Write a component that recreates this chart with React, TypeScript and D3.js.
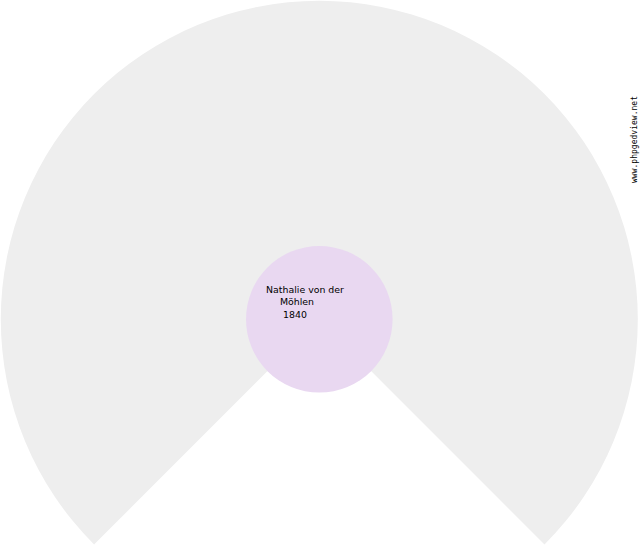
import React, { useEffect, useRef } from 'react';
import * as d3 from 'd3';

// fan chart content
const personLines = ['Nathalie von der', 'Möhlen', '1840'];
const lineCenters = [305, 297, 295];
const watermark = 'www.phpgedview.net';
const fanDegrees = 270;

export default function App() {
  const svgRef = useRef<SVGSVGElement>(null);

  useEffect(() => {
    if (!svgRef.current) return;
    const svg = d3.select(svgRef.current);
    svg.selectAll('*').remove();

    const width = 640, height = 550;
    const cx = 319.3, cy = 319.3;
    const outerR = 318.5, innerR = 73.3;

    svg.attr('width', width).attr('height', height);

    // Fan background (gap at the bottom)
    const half = (fanDegrees / 2) * Math.PI / 180;
    const arc = d3.arc<any>()
      .innerRadius(0)
      .outerRadius(outerR)
      .startAngle(-half)
      .endAngle(half);

    svg.append('path')
      .attr('transform', `translate(${cx},${cy})`)
      .attr('d', arc({}) as string)
      .attr('fill', '#eeeeee');

    // Root person circle
    svg.append('circle')
      .attr('cx', cx)
      .attr('cy', cy)
      .attr('r', innerR)
      .attr('fill', '#e9d8f1');

    // Person label
    svg.selectAll('.name')
      .data(personLines)
      .enter()
      .append('text')
      .attr('class', 'name')
      .attr('x', (d, i) => lineCenters[i])
      .attr('y', (d, i) => 292.5 + i * 12.6)
      .attr('text-anchor', 'middle')
      .attr('font-family', 'DejaVu Sans')
      .attr('font-size', 9.4)
      .attr('fill', '#000')
      .text(d => d);

    // Watermark
    svg.append('text')
      .attr('transform', `translate(637,${183}) rotate(-90)`)
      .attr('font-family', 'DejaVu Sans Mono')
      .attr('font-size', 8)
      .attr('textLength', 87)
      .attr('fill', '#000')
      .text(watermark);
  }, []);

  return (
    <div>
      <svg ref={svgRef} style={{ position: 'absolute', left: 0, top: 0 }}></svg>
    </div>
  );
}
